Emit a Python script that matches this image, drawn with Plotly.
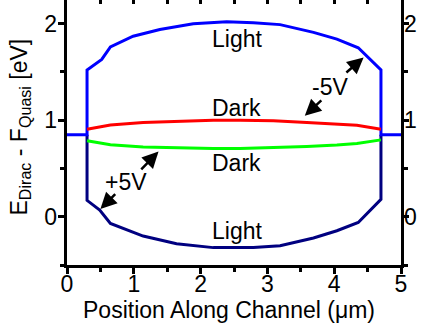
import plotly.graph_objects as go

# Light, -5V (upper, blue)
light_m5_x = [0, 0.3, 0.3, 0.52, 0.65, 0.99, 1.39, 1.89, 2.39, 2.79, 3.19, 3.69, 4.04, 4.36, 4.7, 4.7, 5]
light_m5_y = [0.85, 0.85, 1.52, 1.63, 1.76, 1.87, 1.94, 2.0, 2.02, 2.01, 1.99, 1.91, 1.84, 1.75, 1.52, 0.85, 0.85]

# Light, +5V (lower, navy)
light_p5_x = [0.3, 0.3, 0.49, 0.65, 1.14, 1.64, 2.19, 2.79, 3.19, 3.69, 4.04, 4.36, 4.7, 4.7]
light_p5_y = [0.85, 0.17, 0.07, -0.07, -0.2, -0.28, -0.32, -0.32, -0.30, -0.22, -0.145, -0.06, 0.18, 0.85]

# Dark curves
dark_x = [0.3, 0.65, 1.14, 1.64, 2.19, 2.59, 3.09, 3.59, 4.04, 4.34, 4.7]
dark_m5_y = [0.907, 0.951, 0.975, 0.99, 1.0, 1.0, 0.995, 0.975, 0.96, 0.948, 0.907]
dark_p5_y = [0.786, 0.745, 0.722, 0.712, 0.708, 0.708, 0.714, 0.727, 0.742, 0.758, 0.796]

x_range = [0, 5]
y_range = [-0.5, 2.245]
x_ticks = [0, 1, 2, 3, 4, 5]
y_ticks = [0, 1, 2]

FONT = "Arial, Liberation Sans, sans-serif"
FS = 23

fig = go.Figure()
fig.add_trace(go.Scatter(x=light_p5_x, y=light_p5_y, mode="lines",
                         line=dict(color="#000080", width=3), showlegend=False))
fig.add_trace(go.Scatter(x=light_m5_x, y=light_m5_y, mode="lines",
                         line=dict(color="#0000FF", width=3), showlegend=False))
fig.add_trace(go.Scatter(x=dark_x, y=dark_m5_y, mode="lines",
                         line=dict(color="#FF0000", width=3), showlegend=False))
fig.add_trace(go.Scatter(x=dark_x, y=dark_p5_y, mode="lines",
                         line=dict(color="#00FF00", width=3), showlegend=False))
# invisible traces to activate secondary axes
fig.add_trace(go.Scatter(x=[None], y=[None], xaxis="x2", yaxis="y2", showlegend=False))
fig.add_trace(go.Scatter(x=[None], y=[None], xaxis="x3", yaxis="y", showlegend=False))
fig.add_trace(go.Scatter(x=[None], y=[None], xaxis="x", yaxis="y3", showlegend=False))
fig.add_trace(go.Scatter(x=[None], y=[None], xaxis="x", yaxis="y4", showlegend=False))

# curve labels
labels = [("Light", 2.54, 1.84), ("Dark", 2.54, 1.13), ("Dark", 2.54, 0.56), ("Light", 2.54, -0.145)]
for t, x, y in labels:
    fig.add_annotation(x=x, y=y, text=t, showarrow=False,
                       font=dict(family=FONT, size=FS, color="black"))

fig.add_annotation(x=0.88, y=0.355, text="+5V", showarrow=False,
                   font=dict(family=FONT, size=FS, color="black"))
fig.add_annotation(x=3.93, y=1.34, text="-5V", showarrow=False,
                   font=dict(family=FONT, size=FS, color="black"))

arrows = [
    (1.37, 0.675, 1.09, 0.476),
    (0.50, 0.08, 0.744, 0.25),
    (4.44, 1.65, 4.16, 1.48),
    (3.56, 1.045, 3.83, 1.22),
]
for tx, ty, sx, sy in arrows:
    fig.add_annotation(x=tx, y=ty, ax=sx, ay=sy, xref="x", yref="y", axref="x", ayref="y",
                       text="", showarrow=True, arrowhead=2, arrowsize=1.3,
                       arrowwidth=2.5, arrowcolor="black", standoff=0, startstandoff=0)

# axis titles
fig.add_annotation(xref="paper", yref="paper", x=0.5, y=0, yanchor="middle",
                   xshift=-5, yshift=-45, showarrow=False,
                   text="Position Along Channel (\u03bcm)",
                   font=dict(family=FONT, size=FS, color="black"))
fig.add_annotation(xref="paper", yref="paper", x=0, y=0.5, xanchor="center",
                   xshift=-47, yshift=5, showarrow=False, textangle=-90,
                   text="E<sub>Dirac</sub> - F<sub>Quasi</sub> [eV]",
                   font=dict(family=FONT, size=FS, color="black"))

axis_common = dict(showgrid=False, zeroline=False, linecolor="black", tickcolor="black",
                   automargin=False,
                   tickfont=dict(family=FONT, size=FS, color="black"))
minor_out = dict(ticks="outside", dtick=0.5, tick0=0, ticklen=4, tickwidth=2.5, tickcolor="black")

fig.update_layout(
    width=422, height=331,
    margin=dict(l=67, r=21, t=0, b=66),
    plot_bgcolor="white", paper_bgcolor="white",
    xaxis=dict(range=x_range, tickvals=x_ticks, showline=True, linewidth=3,
               ticks="outside", ticklen=6, tickwidth=2.5, showticklabels=False,
               minor=minor_out, **axis_common),
    xaxis3=dict(range=x_range, overlaying="x", side="bottom", anchor="free", position=0,
                showline=False, ticks="", tickvals=x_ticks, ticklabelstandoff=3, **axis_common),
    yaxis=dict(range=y_range, tickvals=y_ticks, showline=True, linewidth=3,
               ticks="outside", ticklen=6, tickwidth=2.5, showticklabels=False,
               minor=minor_out, **axis_common),
    yaxis3=dict(range=y_range, overlaying="y", side="left", anchor="free", position=0,
                showline=False, ticks="", tickvals=y_ticks, ticklabelstandoff=10, **axis_common),
    xaxis2=dict(range=x_range, overlaying="x", side="top", anchor="y", showline=False,
                tickvals=x_ticks, showticklabels=False, ticks="inside", ticklen=4, tickwidth=2.5,
                minor=dict(ticks="inside", dtick=0.5, tick0=0, ticklen=4, tickwidth=2.5, tickcolor="black"),
                **axis_common),
    yaxis2=dict(range=y_range, overlaying="y", side="right", anchor="x", showline=True, linewidth=3,
                tickvals=y_ticks, ticks="outside", ticklen=5, tickwidth=2.5, showticklabels=False,
                minor=minor_out, **axis_common),
    yaxis4=dict(range=y_range, overlaying="y", side="right", anchor="free", position=1,
                showline=False, ticks="", tickvals=y_ticks, ticklabelstandoff=2, **axis_common),
)

fig.write_html("out.html", config={"displayModeBar": False},
               post_script="document.body.style.margin='0px';")
